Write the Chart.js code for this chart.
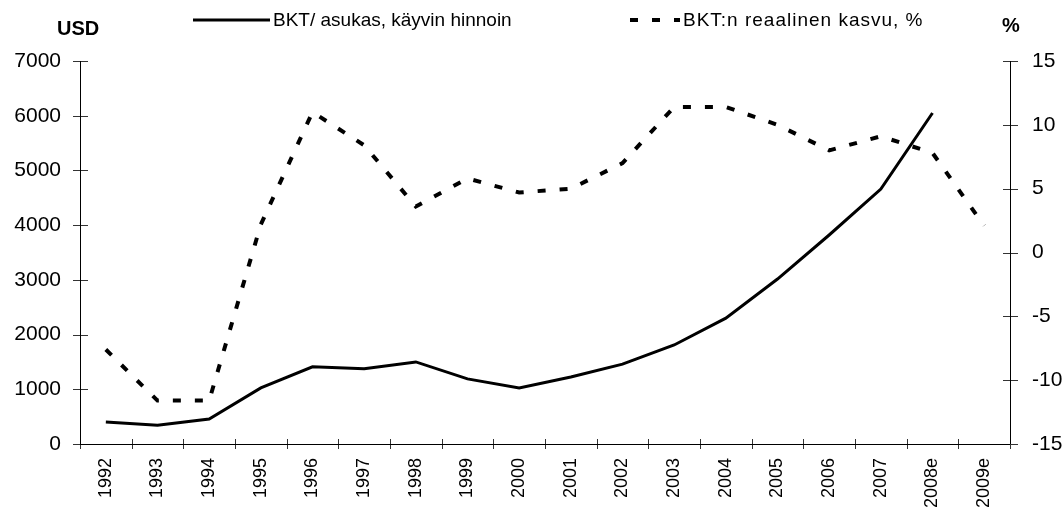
<!DOCTYPE html>
<html>
<head>
<meta charset="utf-8">
<script src="https://cdn.jsdelivr.net/npm/chart.js@4"></script>
<style>
  body { margin: 0; background: #fff; }
  #wrap { position: relative; width: 1064px; height: 509px; }
</style>
</head>
<body>
<div id="wrap"><canvas id="chart"></canvas></div>
<script>
const years = ['1992', '1993', '1994', '1995', '1996', '1997', '1998', '1999', '2000',
	'2001', '2002', '2003', '2004', '2005', '2006', '2007', '2008e', '2009e']
// BKT/ asukas, USD
const gdpPerCapita = [400, 345, 455, 1025, 1410, 1375, 1500, 1190, 1025,
	1225, 1460, 1810, 2300, 3015, 3820, 4660, 6050, null]
// reaalinen kasvu, %
const realGrowth = [-7.6, -11.6, -11.6, 2.2, 11.0, 8.4, 3.6, 5.8, 4.7,
	5.0, 7.0, 11.4, 11.4, 10.0, 8.0, 9.1, 7.8, 2.1]
const leftTicks = [0, 1000, 2000, 3000, 4000, 5000, 6000, 7000]
const rightTicks = [-15, -10, -5, 0, 5, 10, 15]

const FONT = 'Liberation Sans, Arial, sans-serif'

// axis tick marks crossing the axis lines + titles + legend
const decor = {
	id: 'decor',
	afterDraw(chart) {
		const ctx = chart.ctx
		const a = chart.chartArea
		ctx.save()
		ctx.strokeStyle = '#333'
		ctx.lineWidth = 1
		ctx.beginPath()
		leftTicks.forEach((v) => {
			const y = Math.round(chart.scales.y.getPixelForValue(v)) + 0.5
			ctx.moveTo(a.left - 7, y)
			ctx.lineTo(a.left + 8, y)
		})
		rightTicks.forEach((v) => {
			const y = Math.round(chart.scales.y2.getPixelForValue(v)) + 0.5
			ctx.moveTo(a.right - 7, y)
			ctx.lineTo(a.right + 8, y)
		})
		const w = (a.right - a.left) / years.length
		for (let i = 0; i <= years.length; i++) {
			const x = Math.round(a.left + i * w) + 0.5
			ctx.moveTo(x, a.bottom - 5)
			ctx.lineTo(x, a.bottom + 5)
		}
		ctx.stroke()

		// axis lines
		ctx.strokeStyle = '#000'
		ctx.beginPath()
		ctx.moveTo(Math.round(a.left) + 0.5, a.top)
		ctx.lineTo(Math.round(a.left) + 0.5, a.bottom)
		ctx.moveTo(Math.round(a.right) + 0.5, a.top)
		ctx.lineTo(Math.round(a.right) + 0.5, a.bottom)
		ctx.moveTo(a.left, Math.round(a.bottom) + 0.5)
		ctx.lineTo(a.right, Math.round(a.bottom) + 0.5)
		ctx.stroke()

		// titles
		ctx.fillStyle = '#000'
		ctx.font = 'bold 20px ' + FONT
		ctx.textBaseline = 'alphabetic'
		ctx.textAlign = 'left'
		ctx.fillText('USD', 57, 35)
		ctx.fillText('%', 1002, 32)

		// legend
		const ds = chart.data.datasets
		const items = [[ds[0], 193, 270, 0], [ds[1], 630, 680, 1]]
		ctx.font = '19px ' + FONT
		items.forEach(([d, x0, x1, sp]) => {
			ctx.strokeStyle = d.borderColor
			ctx.lineWidth = d.borderWidth
			ctx.setLineDash(d.borderDash || [])
			ctx.beginPath()
			ctx.moveTo(x0, 20)
			ctx.lineTo(x1, 20)
			ctx.stroke()
			ctx.setLineDash([])
			ctx.letterSpacing = sp + 'px'
			ctx.fillText(d.label, x1 + 3, 26)
		})
		ctx.restore()
	},
}

new Chart(document.getElementById('chart'), {
	type: 'line',
	data: {
		labels: years,
		datasets: [
			{
				label: 'BKT/ asukas, käyvin hinnoin',
				data: gdpPerCapita,
				yAxisID: 'y',
				borderColor: '#000',
				borderWidth: 3,
				pointRadius: 0,
				tension: 0,
			},
			{
				label: 'BKT:n reaalinen kasvu, %',
				data: realGrowth,
				yAxisID: 'y2',
				borderColor: '#000',
				borderWidth: 4,
				borderDash: [8, 14],
				pointRadius: 0,
				tension: 0,
			},
		],
	},
	options: {
		responsive: true,
		maintainAspectRatio: false,
		animation: false,
		layout: { padding: { top: 61, left: 0, right: 0, bottom: 0 } },
		plugins: { legend: { display: false }, tooltip: { enabled: false } },
		scales: {
			x: {
				offset: true,
				grid: { display: false },
				border: { display: false },
				ticks: {
					minRotation: 90,
					maxRotation: 90,
					padding: 6,
					color: '#000',
					font: { family: FONT, size: 18 },
					autoSkip: false,
				},
				afterFit(s) { s.height = 65 },
			},
			y: {
				position: 'left',
				min: 0,
				max: 7000,
				afterBuildTicks(s) { s.ticks = leftTicks.map((v) => ({ value: v })) },
				grid: { display: false },
				border: { display: false },
				ticks: {
					padding: 11,
					color: '#000',
					font: { family: FONT, size: 21 },
					callback: (v) => String(v),
				},
				afterFit(s) { s.width = 80 },
			},
			y2: {
				position: 'right',
				min: -15,
				max: 15,
				afterBuildTicks(s) { s.ticks = rightTicks.map((v) => ({ value: v })) },
				grid: { display: false },
				border: { display: false },
				ticks: {
					padding: 14,
					color: '#000',
					font: { family: FONT, size: 21 },
					callback: (v) => String(v),
				},
				afterFit(s) { s.width = 54 },
			},
		},
	},
	plugins: [decor],
})
</script>
</body>
</html>
